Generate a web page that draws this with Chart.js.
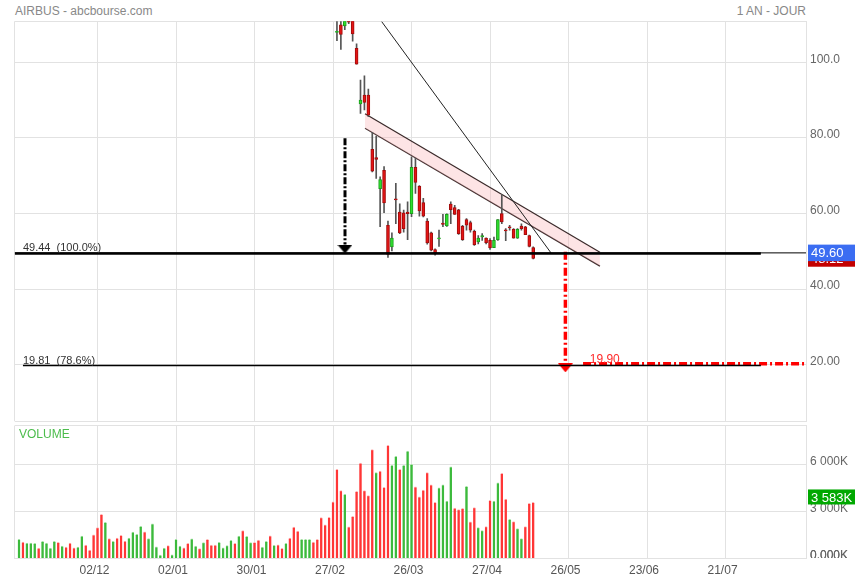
<!DOCTYPE html>
<html>
<head>
<meta charset="utf-8">
<title>AIRBUS - abcbourse.com</title>
<script src="https://cdn.jsdelivr.net/npm/chart.js@4.4.1/dist/chart.umd.min.js"></script>
<style>
  body { margin: 0; width: 855px; height: 580px; overflow: hidden; position: relative; background: #fff; font-family: Arial, "Liberation Sans", sans-serif; }
  canvas { position: absolute; left: 0; }
  #price { top: 0; }
  #volume { top: 422px; }
  .head { position: absolute; top: 4px; font-size: 12px; color: #888; white-space: nowrap; }
</style>
</head>
<body>
<div class="head" style="left:15px">AIRBUS - abcbourse.com</div>
<div class="head" style="right:49px">1 AN - JOUR</div>
<canvas id="price" width="855" height="422"></canvas>
<canvas id="volume" width="855" height="158"></canvas>
<script>
// x = trading day number, 0 = first volume bar
const tickDays = [20, 40, 60, 80, 100, 120, 140, 160, 180];
const tickLabels = ['02/12', '02/01', '30/01', '27/02', '26/03', '27/04', '26/05', '23/06', '21/07'];
const priceTicks = [20, 40, 60, 80, 100];
const volTicks = [0, 3000, 6000];
const volTickLabels = ['0.000K', '3 000K', '6 000K'];

// before day 81 the stock trades above the visible price window
const firstCandle = 81;
const opens  = [107.9, 109.9, 109.6, 110.9, 111.5, 103.7, 89.0, 91.3, 91.3, 77.0, 74.8, 66.6, 71.4, 56.9, 51.2, 63.8, 60.4, 60.2, 60.4, 60.0,
                72.2, 67.2, 62.9, 58.0, 54.9, 50.5, 53.3, 57.5, 56.7, 62.5, 61.6, 61.0, 56.6, 58.4, 57.6, 55.3, 52.5, 53.8, 53.5, 52.9,
                51.0, 53.1, 60.0, 55.5, 56.3, 55.8, 53.5, 56.7, 56.5, 54.2, 51.0];
const highs  = [112.0, 112.0, 112.0, 111.5, 112.0, 104.9, 95.3, 96.4, 92.9, 81.5, 80.5, 69.7, 72.4, 58.0, 54.9, 68.0, 62.6, 60.9, 63.1, 75.0,
                74.7, 67.4, 64.0, 58.7, 55.1, 50.7, 55.6, 59.8, 59.9, 63.1, 62.2, 61.1, 56.9, 58.7, 58.0, 55.6, 54.2, 54.7, 53.6, 53.4,
                53.8, 58.4, 65.0, 56.0, 56.9, 56.0, 56.0, 57.3, 56.6, 54.3, 51.2];
const lows   = [105.7, 103.4, 108.6, 110.2, 105.6, 99.5, 86.5, 87.4, 85.6, 71.0, 69.3, 56.5, 60.2, 48.4, 50.1, 57.3, 54.7, 55.1, 53.1, 59.2,
                65.3, 59.3, 59.1, 51.9, 50.1, 49.0, 51.3, 56.5, 56.6, 57.3, 59.8, 54.5, 52.9, 55.6, 55.1, 51.6, 52.0, 52.9, 52.0, 50.5,
                51.0, 52.9, 57.3, 52.8, 55.6, 53.5, 53.4, 55.6, 54.4, 51.2, 48.0];
const closes = [108.0, 107.4, 111.5, 110.6, 107.5, 99.5, 90.0, 89.4, 86.0, 71.2, 74.3, 69.0, 62.8, 49.2, 53.5, 63.6, 54.9, 56.0, 60.0, 72.2,
                68.2, 60.7, 59.3, 52.2, 50.3, 49.6, 53.4, 57.1, 59.8, 61.0, 59.8, 54.7, 53.1, 56.9, 55.6, 51.8, 53.5, 54.2, 52.3, 50.9,
                52.9, 58.4, 57.8, 55.4, 56.2, 53.5, 55.8, 56.0, 54.4, 51.3, 48.12];

// volume in thousands, one per day from day 0
const volumes = [1220, 1050, 990, 990, 970, 670, 1090, 990, 670, 1090, 1030, 800, 730, 990, 690, 730, 1430, 860, 540, 1520,
                 1980, 2830, 2320, 1280, 1090, 1300, 1480, 1110, 1300, 1690, 1540, 2050, 1710, 1280, 2220, 750, 220, 670, 820, 240,
                 1220, 800, 690, 970, 1260, 800, 630, 1010, 1220, 860, 860, 1030, 690, 820, 1160, 970, 1430, 1790, 1410, 1010,
                 1030, 1180, 730, 1090, 1450, 840, 880, 650, 970, 1300, 2010, 1750, 1220, 1220, 1220, 1050, 1220, 2620, 2150, 2640,
                 3620, 5700, 4340, 4110, 2030, 2690, 4300, 6100, 4340, 4020, 6960, 5490, 5590, 4550, 7230, 5960, 6530, 5700, 5960, 6870,
                 6020, 4580, 3940, 4380, 5490, 4710, 3590, 4520, 4710, 3670, 5860, 3230, 3120, 3210, 4610, 2340, 3250, 1970, 1780, 2040,
                 3720, 3670, 4840, 5440, 3800, 2510, 2360, 1910, 1270, 2040, 3520, 3583];
// + close above previous close, - below
const volMoves = ('+-+++-++++' + '-+---++---' + '--+-+---++' + '++-+++++-+' + '++--++-+--' +
                  '-++++-+-++' + '--++-+--+-' + '--+++-----' + '---+------' + '-+---++-++' +
                  '+------+++' + '+---+--++-' + '-++--+-++-' + '--').split('');

// drawings on the price pane: [day, price]
const fibLevels = [49.44, 19.81];
const fibNames = ['49.44  (100.0%)', '19.81  (78.6%)'];
const markedPrice = 49.60;
const targetPrice = 19.90;
const channelUpper = [[88.15, 86.4], [148.0, 49.75]];
const channelLower = [[88.15, 82.55], [148.0, 46.1]];
const trendLine = [[92.4, 110.75], [135.6, 49.5]];
const blackArrow = [[83.05, 79.9], [83.05, 51.8]];
const blackHead = [83.05, 50.6];
const redArrow = [[139.2, 49.9], [139.2, 20.4]];
const redHead = [139.2, 19.2];
const targetLine = [[143.7, 20.3], [200.5, 20.3]];

const X_MIN = -1.1, X_MAX = 200.5;
const P_MIN = 5.14, P_MAX = 110.84;
const V_MAX = 8490;
const GRID = '#e2e2e2';
const FONT = 'Arial, "Liberation Sans", sans-serif';

Chart.defaults.font.family = FONT;
Chart.defaults.animation = false;
Chart.defaults.plugins.legend.display = false;
Chart.defaults.plugins.tooltip.enabled = false;

const pts = (arr) => arr.map(([x, y]) => ({ x, y }));

function xAxis(withLabels) {
  return {
    type: 'linear', min: X_MIN, max: X_MAX, offset: false,
    grid: { color: GRID, drawTicks: false, offset: false },
    border: { display: false },
    afterBuildTicks: (s) => { s.ticks = [X_MIN, ...tickDays, X_MAX].map((v) => ({ value: v })); },
    afterFit: (s) => { s.height = withLabels ? 21.5 : 0; s.paddingLeft = 0; s.paddingRight = 0; },
    ticks: {
      display: withLabels, autoSkip: false, maxRotation: 0, padding: 5, labelOffset: -3,
      color: '#555', font: { size: 12 },
      callback: (v) => { const k = tickDays.indexOf(v); return k < 0 ? '' : tickLabels[k]; }
    }
  };
}

function yAxis(min, max, values, names) {
  return {
    position: 'right', min, max,
    grid: { color: GRID, drawTicks: false },
    border: { color: GRID },
    afterBuildTicks: (s) => { s.ticks = [min, ...values, max].map((v) => ({ value: v })); },
    afterFit: (s) => { s.width = 49; s.paddingTop = 0; s.paddingBottom = 0; },
    ticks: {
      padding: 4, labelOffset: -3, color: '#666', font: { size: 12 },
      callback: (v) => { const k = values.indexOf(v); return k < 0 ? '' : names[k]; }
    }
  };
}

function seg(points, colour, width, dash) {
  return { type: 'line', data: pts(points), borderColor: colour, borderWidth: width, borderDash: dash || [],
           pointRadius: 0, fill: false, clip: 0, order: 0 };
}

function headImage(colour) {
  const c = document.createElement('canvas');
  c.width = 15; c.height = 9;
  const g = c.getContext('2d');
  g.fillStyle = colour;
  g.beginPath(); g.moveTo(0, 0); g.lineTo(15, 0); g.lineTo(7.5, 9); g.closePath(); g.fill();
  return c;
}

function head(at, colour) {
  return { type: 'line', data: pts([at]), showLine: false, pointRadius: 1, pointStyle: headImage(colour), clip: 0, order: 0 };
}

function tag(ctx, cy, text, colour, h) {
  ctx.fillStyle = colour;
  ctx.fillRect(808, cy - h / 2, 47, h);
  ctx.fillStyle = '#fff';
  ctx.textBaseline = 'middle';
  ctx.font = '13px ' + FONT;
  ctx.fillText(text, 811, cy + 1);
}

const days = opens.map((_, k) => firstCandle + k);
const rising = closes.map((c, k) => c >= opens[k]);

const priceMarks = {
  id: 'priceMarks',
  afterDraw(chart) {
    const { ctx, scales: { x, y } } = chart;
    ctx.save();
    ctx.font = '11px ' + FONT;
    ctx.fillStyle = '#333';
    ctx.textBaseline = 'alphabetic';
    fibLevels.forEach((lv, k) => ctx.fillText(fibNames[k], x.getPixelForValue(1.0), y.getPixelForValue(lv) - 2));
    ctx.font = '12px ' + FONT;
    ctx.fillStyle = '#ff2a2a';
    ctx.fillText(targetPrice.toFixed(2), x.getPixelForValue(145.4), y.getPixelForValue(targetLine[0][1]) - 1);
    const last = closes[closes.length - 1];
    tag(ctx, y.getPixelForValue(last), last.toFixed(2), '#c40000', 16.5);
    tag(ctx, y.getPixelForValue(markedPrice), markedPrice.toFixed(2), '#3b6df2', 16.5);
    ctx.restore();
  }
};

new Chart(document.getElementById('price'), {
  type: 'bar',
  data: {
    datasets: [
      { type: 'line', data: pts(channelUpper), borderColor: '#3a2a2a', borderWidth: 1.2, pointRadius: 0,
        fill: '+1', backgroundColor: 'rgba(250,170,175,0.32)', clip: 0, order: 5 },
      { type: 'line', data: pts(channelLower), borderColor: '#3a2a2a', borderWidth: 1.2, pointRadius: 0,
        fill: false, clip: 0, order: 5 },
      { data: days.map((d, k) => ({ x: d, y: [lows[k], highs[k]] })), barThickness: 1, grouped: false,
        backgroundColor: '#555', clip: 0, order: 4 },
      { data: days.map((d, k) => ({ x: d, y: [opens[k], closes[k]] })), barThickness: 3, grouped: false,
        backgroundColor: rising.map((u) => (u ? '#2ee02e' : '#e41414')),
        borderColor: rising.map((u) => (u ? '#1c9c1c' : '#a00c0c')),
        borderWidth: 1, borderSkipped: false, minBarLength: 1, clip: 0, order: 3 },
      seg([[X_MIN, markedPrice], [X_MAX, markedPrice]], '#000', 1),
      seg([[X_MIN, fibLevels[0]], [189, fibLevels[0]]], '#000', 2.5),
      seg([[1.0, fibLevels[1]], [189, fibLevels[1]]], '#000', 1.4),
      seg(trendLine, '#222', 1),
      seg(blackArrow, '#000', 3, [7, 2, 2, 2]),
      head(blackHead, '#000'),
      seg(redArrow, '#ff0000', 3.5, [8, 3, 2, 3]),
      head(redHead, '#ff0000'),
      seg(targetLine, '#ff0000', 3.5, [8, 3, 2, 3])
    ]
  },
  options: {
    responsive: false,
    devicePixelRatio: 1,
    layout: { autoPadding: false, padding: { left: 14.7, right: 0, top: 21.3, bottom: 1 } },
    scales: {
      x: xAxis(false),
      y: yAxis(P_MIN, P_MAX, priceTicks, priceTicks.map((v) => (v >= 100 ? v.toFixed(1) : v.toFixed(2))))
    }
  },
  plugins: [priceMarks]
});

const volumeMarks = {
  id: 'volumeMarks',
  afterDraw(chart) {
    const { ctx, chartArea, scales: { y } } = chart;
    ctx.save();
    // the pane cuts the lowest axis label
    ctx.fillStyle = '#fff';
    ctx.fillRect(chartArea.right + 1, chartArea.bottom - 0.5, 60, 30);
    ctx.font = '12px ' + FONT;
    ctx.fillStyle = '#4cbc4c';
    ctx.textBaseline = 'alphabetic';
    ctx.fillText('VOLUME', chartArea.left + 4.3, chartArea.top + 12.3);
    const last = volumes[volumes.length - 1];
    const txt = Math.floor(last / 1000) + ' ' + String(last % 1000).padStart(3, '0') + 'K';
    tag(ctx, y.getPixelForValue(last) - 5.5, txt, '#00a800', 15);
    ctx.restore();
  }
};

new Chart(document.getElementById('volume'), {
  type: 'bar',
  data: {
    datasets: [{
      data: volumes.map((v, i) => ({ x: i, y: v })),
      barThickness: 2.4, grouped: false,
      backgroundColor: volMoves.map((m) => (m === '+' ? '#3cba3c' : '#ff3636')),
      borderColor: volMoves.map((m) => (m === '+' ? '#a6e2a6' : '#ffb4b4')),
      borderWidth: { top: 1, right: 0, bottom: 0, left: 0 }
    }]
  },
  options: {
    responsive: false,
    devicePixelRatio: 1,
    layout: { autoPadding: false, padding: { left: 14.7, right: 0, top: 3.7, bottom: 0 } },
    scales: {
      x: xAxis(true),
      y: yAxis(0, V_MAX, volTicks, volTickLabels)
    }
  },
  plugins: [volumeMarks]
});
</script>
</body>
</html>
